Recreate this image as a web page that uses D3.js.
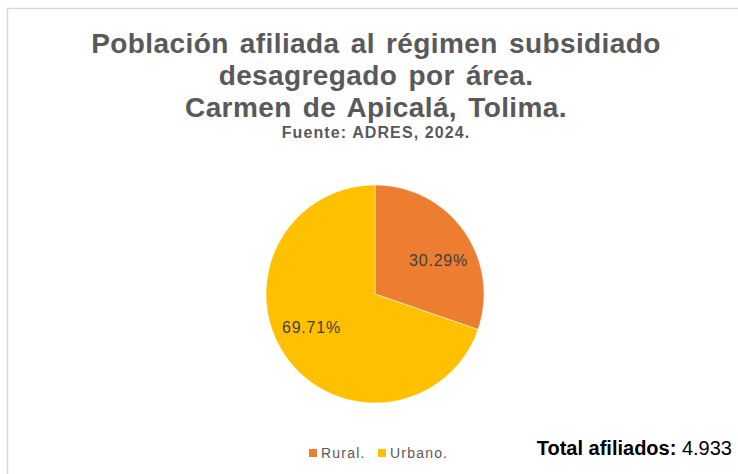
<!DOCTYPE html>
<html>
<head>
<meta charset="utf-8">
<script src="https://cdn.jsdelivr.net/npm/d3@7"></script>
<style>
  body { margin: 0; background: #fff; }
  svg { display: block; font-family: "Liberation Sans", Arial, sans-serif; }
</style>
</head>
<body>
<div id="chart"></div>
<script>
const categories = ['Rural.', 'Urbano.'];
const shares = [30.29, 69.71];
const colors = ['#ED7D31', '#FFC000'];
const titleLines = ['Población afiliada al régimen subsidiado', 'desagregado por área.', 'Carmen de Apicalá, Tolima.'];
const source = 'Fuente: ADRES, 2024.';
const totalLabel = 'Total afiliados:';
const totalValue = '4.933';

const width = 738, height = 474;
const svg = d3.select('#chart').append('svg')
    .attr('width', width)
    .attr('height', height);

// chart frame
svg.append('rect')
    .attr('x', 7.5).attr('y', 8.5)
    .attr('width', 740).attr('height', 480)
    .attr('fill', '#fff')
    .attr('stroke', '#d9d9d9')
    .attr('stroke-width', 1.5);

// title
svg.append('g')
  .selectAll('text')
  .data(titleLines)
  .enter().append('text')
    .attr('x', 376)
    .attr('y', (d, i) => 53 + i * 32)
    .attr('text-anchor', 'middle')
    .attr('font-size', 28)
    .attr('font-weight', 'bold')
    .attr('word-spacing', 3)
    .attr('letter-spacing', 0.4)
    .attr('fill', '#595959')
    .text(d => d);

svg.append('text')
    .attr('x', 376).attr('y', 138)
    .attr('text-anchor', 'middle')
    .attr('font-size', 16)
    .attr('font-weight', 'bold')
    .attr('letter-spacing', 1.1)
    .attr('fill', '#595959')
    .text(source);

// pie
const cx = 375, cy = 294, r = 109;
const labelShift = 7.5 * Math.PI / 180;
const data = categories.map((c, i) => ({ key: c, value: shares[i], color: colors[i] }));
const pie = d3.pie().sort(null).value(d => d.value);
const arc = d3.arc().innerRadius(0).outerRadius(r);
const labelArc = d3.arc().innerRadius(r * 0.66).outerRadius(r * 0.66);

const g = svg.append('g')
    .attr('transform', 'translate(' + cx + ',' + cy + ')');

const arcs = pie(data);
g.selectAll('path')
  .data(arcs)
  .enter().append('path')
    .attr('d', arc)
    .attr('fill', d => d.data.color)
    .attr('stroke', '#fff')
    .attr('stroke-width', 0.5);

g.selectAll('text')
  .data(arcs)
  .enter().append('text')
    .attr('transform', d => 'translate(' + labelArc.centroid({
        startAngle: d.startAngle + labelShift,
        endAngle: d.endAngle + labelShift
      }) + ')')
    .attr('text-anchor', 'middle')
    .attr('dy', '0.35em')
    .attr('font-size', 16)
    .attr('letter-spacing', 0.8)
    .attr('fill', '#404040')
    .text(d => d.data.value.toFixed(2) + '%');

// legend
const legendX = [309, 378];
const legend = svg.append('g')
  .selectAll('g')
  .data(data)
  .enter().append('g')
    .attr('transform', (d, i) => 'translate(' + legendX[i] + ',453)');
legend.append('rect')
    .attr('x', 0).attr('y', -4)
    .attr('width', 8).attr('height', 8)
    .attr('fill', d => d.color);
legend.append('text')
    .attr('x', 12).attr('y', 0)
    .attr('dy', '0.35em')
    .attr('font-size', 14)
    .attr('letter-spacing', 1.2)
    .attr('fill', '#595959')
    .text(d => d.key);

// total
const total = svg.append('text')
    .attr('x', 732).attr('y', 455)
    .attr('text-anchor', 'end')
    .attr('font-size', 20)
    .attr('fill', '#000');
total.append('tspan').attr('font-weight', 'bold').text(totalLabel + ' ');
total.append('tspan').text(totalValue);
</script>
</body>
</html>
